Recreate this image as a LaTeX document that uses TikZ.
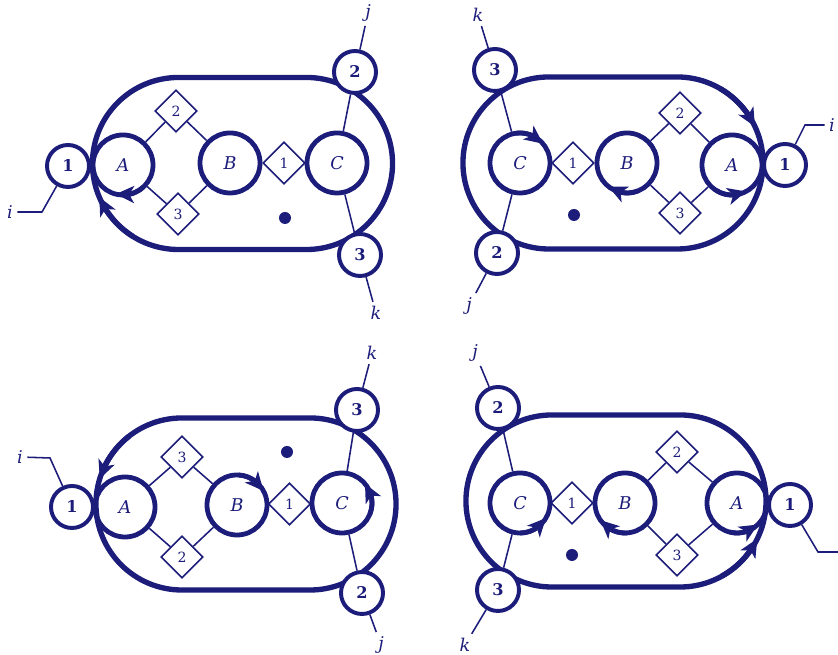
\documentclass[tikz,border=0pt]{standalone}
\usepackage{xcolor}
\usepackage{fontspec}
\setmainfont{DejaVu Serif}
\usetikzlibrary{arrows.meta, bending, shapes.geometric, shapes.misc, calc}
\definecolor{inkblue}{HTML}{1C1C7A}

\begin{document}
\begin{tikzpicture}[
    x=0.025cm, y=0.025cm,
    ring/.style={rounded rectangle, draw=inkblue, line width=3.8pt, minimum width=7.5cm, minimum height=4.3cm, inner sep=0pt},
    site/.style={circle, draw=inkblue, text=inkblue, line width=3.4pt, minimum size=1.5cm, inner sep=0pt, font=\fontsize{12.5}{12.5}\selectfont\itshape},
    port/.style={circle, draw=inkblue, fill=white, text=inkblue, line width=2.8pt, minimum size=1.05cm, inner sep=0pt, font=\fontsize{11.5}{11.5}\selectfont\bfseries},
    bond/.style={diamond, draw=inkblue, fill=white, text=inkblue, line width=1.1pt, minimum size=1.05cm, inner sep=0pt, font=\fontsize{10}{10}\selectfont},
    tag/.style={text=inkblue, inner sep=3pt, font=\fontsize{12.5}{12.5}\selectfont\itshape},
    blob/.style={circle, fill=inkblue, minimum size=0.3cm, inner sep=0pt},
    link/.style={draw=inkblue, line width=1.1pt},
    spin/.style={-{Stealth[length=13pt, width=12pt, inset=3.5pt]}, draw=inkblue, line width=3.4pt},
]
    \useasboundingbox (0,0) rectangle (838,655);

    % Top left panel
    \node[ring] (tlring) at (242.5,491.5) {};
    \node[site] (tlA) at (123,490) {A};
    \node[site] (tlB) at (230,492) {B};
    \node[site] (tlC) at (337,492) {C};
    \node[bond] (tlbond1) at (284,492) {1};
    \node[bond] (tlbond2) at (176,544) {2};
    \node[bond] (tlbond3) at (178,441) {3};
    \node[port] (tlport1) at (68,489) {1};
    \node[port] (tlport2) at (355,583) {2};
    \node[port] (tlport3) at (360,400) {3};
    \node[tag] (tli) at (10,443) {i};
    \node[tag] (tlj) at (368,642) {j};
    \node[tag] (tlk) at (376,342) {k};
    \coordinate (tlbend) at (42,443);
    \node[blob] (tldot) at (285,437) {};
    \draw[link] (tlA) -- (tlbond2);
    \draw[link] (tlbond2) -- (tlB);
    \draw[link] (tlA) -- (tlbond3);
    \draw[link] (tlbond3) -- (tlB);
    \draw[link] (tlC) -- (tlport2);
    \draw[link] (tlport2) -- (tlj);
    \draw[link] (tlC) -- (tlport3);
    \draw[link] (tlport3) -- (tlk);
    \draw[link] (tlport1) -- (tlbend) -- (tli);
    \draw[spin] ($(tlA)+(312:30)$) arc[start angle=312, end angle=256, radius=30];
    \draw[spin, line width=3.8pt] ($(tlring)+(-64,0)+(238:86)$) arc[start angle=238, end angle=203, radius=86];

    % Top right panel
    \node[ring] (trring) at (613,492) {};
    \node[site] (trC) at (520,492) {C};
    \node[site] (trB) at (627,492) {B};
    \node[site] (trA) at (732,490) {A};
    \node[bond] (trbond1) at (573,492) {1};
    \node[bond] (trbond2) at (680,542) {2};
    \node[bond] (trbond3) at (680,442) {3};
    \node[port] (trport1) at (785,490) {1};
    \node[port] (trport3) at (495,585) {3};
    \node[port] (trport2) at (497,402) {2};
    \node[tag] (tri) at (832,530) {i};
    \node[tag] (trk) at (478,640) {k};
    \node[tag] (trj) at (469,349) {j};
    \coordinate (trbend) at (805,530);
    \node[blob] (trdot) at (574,440) {};
    \draw[link] (trA) -- (trbond2);
    \draw[link] (trbond2) -- (trB);
    \draw[link] (trA) -- (trbond3);
    \draw[link] (trbond3) -- (trB);
    \draw[link] (trC) -- (trport3);
    \draw[link] (trport3) -- (trk);
    \draw[link] (trC) -- (trport2);
    \draw[link] (trport2) -- (trj);
    \draw[link] (trport1) -- (trbend) -- (tri);
    \draw[spin] ($(trC)+(97:30)$) arc[start angle=97, end angle=40, radius=30];
    \draw[spin] ($(trB)+(292:30)$) arc[start angle=292, end angle=232, radius=30];
    \draw[spin] ($(trA)+(238:30)$) arc[start angle=238, end angle=298, radius=30];
    \draw[spin, line width=3.8pt] ($(trring)+(64,0)+(60:86)$) arc[start angle=60, end angle=25, radius=86];

    % Bottom left panel
    \node[ring] (blring) at (246,151) {};
    \node[site] (blA) at (125,148) {A};
    \node[site] (blB) at (237,150) {B};
    \node[site] (blC) at (342,152) {C};
    \node[bond] (blbond1) at (289.5,151) {1};
    \node[bond] (blbond3) at (182,198) {3};
    \node[bond] (blbond2) at (182,98) {2};
    \node[port] (blport1) at (72,148) {1};
    \node[port] (blport3) at (357,245) {3};
    \node[port] (blport2) at (362,62) {2};
    \node[tag] (bli) at (20,198) {i};
    \node[tag] (blk) at (372,302) {k};
    \node[tag] (blj) at (381,10) {j};
    \coordinate (blbend) at (50,197);
    \node[blob] (bldot) at (287,203) {};
    \draw[link] (blA) -- (blbond3);
    \draw[link] (blbond3) -- (blB);
    \draw[link] (blA) -- (blbond2);
    \draw[link] (blbond2) -- (blB);
    \draw[link] (blC) -- (blport3);
    \draw[link] (blport3) -- (blk);
    \draw[link] (blC) -- (blport2);
    \draw[link] (blport2) -- (blj);
    \draw[link] (blport1) -- (blbend) -- (bli);
    \draw[spin] ($(blB)+(87:30)$) arc[start angle=87, end angle=28, radius=30];
    \draw[spin] ($(blC)+(-22:30)$) arc[start angle=-22, end angle=40, radius=30];
    \draw[spin, line width=3.8pt] ($(blring)+(-64,0)+(128:86)$) arc[start angle=128, end angle=163, radius=86];

    % Bottom right panel
    \node[ring] (brring) at (616,154) {};
    \node[site] (brC) at (520,152) {C};
    \node[site] (brB) at (625,152) {B};
    \node[site] (brA) at (737,152) {A};
    \node[bond] (brbond1) at (572,152) {1};
    \node[bond] (brbond2) at (677,203) {2};
    \node[bond] (brbond3) at (677,100) {3};
    \node[port] (brport1) at (790,150) {1};
    \node[port] (brport2) at (498,247) {2};
    \node[port] (brport3) at (498,65) {3};
    \node[tag] (brj) at (475,302) {j};
    \node[tag] (brk) at (465,10) {k};
    \coordinate (brbend) at (818,103);
    \coordinate (brend) at (840,103);
    \node[blob] (brdot) at (572,100) {};
    \draw[link] (brA) -- (brbond2);
    \draw[link] (brbond2) -- (brB);
    \draw[link] (brA) -- (brbond3);
    \draw[link] (brbond3) -- (brB);
    \draw[link] (brC) -- (brport2);
    \draw[link] (brport2) -- (brj);
    \draw[link] (brC) -- (brport3);
    \draw[link] (brport3) -- (brk);
    \draw[link] (brport1) -- (brbend) -- (brend);
    \draw[spin] ($(brC)+(270:30)$) arc[start angle=270, end angle=330, radius=30];
    \draw[spin] ($(brB)+(274:30)$) arc[start angle=274, end angle=215, radius=30];
    \draw[spin] ($(brA)+(256:30)$) arc[start angle=256, end angle=314, radius=30];
    \draw[spin, line width=3.8pt] ($(brring)+(64,0)+(299:86)$) arc[start angle=299, end angle=334, radius=86];
\end{tikzpicture}
\end{document}
